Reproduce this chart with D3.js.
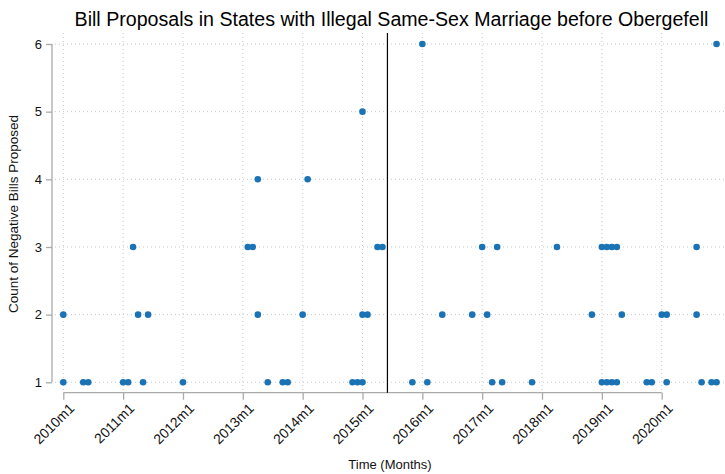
<!DOCTYPE html>
<html>
<head>
<meta charset="utf-8">
<script src="https://cdn.jsdelivr.net/npm/d3@7"></script>
<style>
  html, body { margin: 0; padding: 0; background: #fff; }
  svg { display: block; font-family: "Liberation Sans", Arial, Helvetica, sans-serif; }
</style>
</head>
<body>
<svg id="chart" width="725" height="474"></svg>
<script>
// Monthly observations: period (Stata %tm style) and count of negative bills proposed
const periods = [
  "2010m1","2010m1","2010m5","2010m6","2011m1","2011m2","2011m3","2011m4","2011m5","2011m6",
  "2012m1","2013m2","2013m3","2013m4","2013m4","2013m6","2013m9","2013m10","2014m1","2014m2",
  "2014m11","2014m12","2015m1","2015m1","2015m1","2015m2","2015m4","2015m5","2015m11","2016m1",
  "2016m2","2016m5","2016m11","2017m1","2017m2","2017m3","2017m4","2017m5","2017m11","2018m4",
  "2018m11","2019m1","2019m1","2019m2","2019m2","2019m3","2019m3","2019m4","2019m4","2019m5",
  "2019m10","2019m11","2020m1","2020m2","2020m2","2020m8","2020m8","2020m9","2020m11","2020m12",
  "2020m12"
];
const counts = [
  1,2,1,1,1,1,3,2,1,2,
  1,3,3,2,4,1,1,1,2,4,
  1,1,1,2,5,2,3,3,1,6,
  1,2,2,3,2,1,3,1,1,3,
  2,1,3,1,3,1,3,1,3,2,
  1,1,2,1,2,2,3,1,1,1,
  6
];
const xTickLabels = ["2010m1","2011m1","2012m1","2013m1","2014m1","2015m1","2016m1","2017m1","2018m1","2019m1","2020m1"];
const yTickValues = [1, 2, 3, 4, 5, 6];
const decisionPeriod = "2015m6"; // Obergefell v. Hodges

const title = "Bill Proposals in States with Illegal Same-Sex Marriage before Obergefell";
const xTitle = "Time (Months)";
const yTitle = "Count of Negative Bills Proposed";

// "2010m1" -> months elapsed since 1960m1
const toMonth = s => { const [y, m] = s.split("m").map(Number); return (y - 1960) * 12 + (m - 1); };

const svg = d3.select("#chart");
const plot = { left: 52, right: 725, top: 33, bottom: 392.7 };

const x = d3.scaleLinear()
  .domain([toMonth("2010m1"), toMonth("2020m1")])
  .range([63.3, 661.7]);
const y = d3.scaleLinear()
  .domain([1, 6])
  .range([382.3, 44]);

const gridColor = "#c8c8c8";
const axisColor = "#aaaaaa";

// Grid
const grid = svg.append("g");
grid.selectAll("line.h").data(yTickValues).join("line")
  .attr("x1", plot.left + 3).attr("x2", plot.right)
  .attr("y1", d => y(d)).attr("y2", d => y(d))
  .attr("stroke", gridColor).attr("stroke-width", 1).attr("stroke-dasharray", "1,3");
grid.selectAll("line.v").data(xTickLabels).join("line")
  .attr("x1", d => x(toMonth(d))).attr("x2", d => x(toMonth(d)))
  .attr("y1", plot.top).attr("y2", plot.bottom)
  .attr("stroke", gridColor).attr("stroke-width", 1).attr("stroke-dasharray", "1,3");

// Y axis
const yAxis = d3.axisLeft(y).tickValues(yTickValues).tickFormat(d3.format("d")).tickSize(6).tickPadding(4);
const gy = svg.append("g").attr("transform", `translate(${plot.left},0)`).call(yAxis);
gy.select(".domain").attr("d", `M0,${y(1)}V${y(6)}`).attr("stroke", axisColor).attr("stroke-width", 1.3);
gy.selectAll(".tick line").attr("stroke", axisColor).attr("stroke-width", 1.3);
gy.selectAll(".tick text").attr("font-size", 13).attr("fill", "#111").attr("font-family", null);

// X axis
const xAxis = d3.axisBottom(x).tickValues(xTickLabels.map(toMonth))
  .tickFormat((d, i) => xTickLabels[i]).tickSize(7).tickPadding(3);
const gx = svg.append("g").attr("transform", `translate(0,${plot.bottom})`).call(xAxis);
gx.select(".domain").attr("d", `M${x(toMonth("2010m1"))},0H${x(toMonth("2020m1"))}`).attr("stroke", axisColor).attr("stroke-width", 1.3);
gx.selectAll(".tick line").attr("stroke", axisColor).attr("stroke-width", 1.3);
gx.selectAll(".tick text")
  .attr("font-size", 14).attr("fill", "#111").attr("font-family", null)
  .attr("text-anchor", "end")
  .attr("dy", "0.35em")
  .attr("transform", "translate(1,6) rotate(-45)");

// Obergefell decision marker
svg.append("line")
  .attr("x1", x(toMonth(decisionPeriod))).attr("x2", x(toMonth(decisionPeriod)))
  .attr("y1", plot.top).attr("y2", plot.bottom)
  .attr("stroke", "#000").attr("stroke-width", 1.2);

// Points
svg.append("g").selectAll("circle").data(periods).join("circle")
  .attr("cx", d => x(toMonth(d)))
  .attr("cy", (d, i) => y(counts[i]))
  .attr("r", 3.3)
  .attr("fill", "#1a73b5");

// Titles
svg.append("text").attr("x", 391.5).attr("y", 26).attr("text-anchor", "middle")
  .attr("font-size", 19.6).attr("fill", "#000").text(title);
svg.append("text").attr("x", 390).attr("y", 469).attr("text-anchor", "middle")
  .attr("font-size", 13).attr("fill", "#111").text(xTitle);
svg.append("text").attr("transform", "translate(18,214) rotate(-90)").attr("text-anchor", "middle")
  .attr("font-size", 13.5).attr("fill", "#111").text(yTitle);
</script>
</body>
</html>
